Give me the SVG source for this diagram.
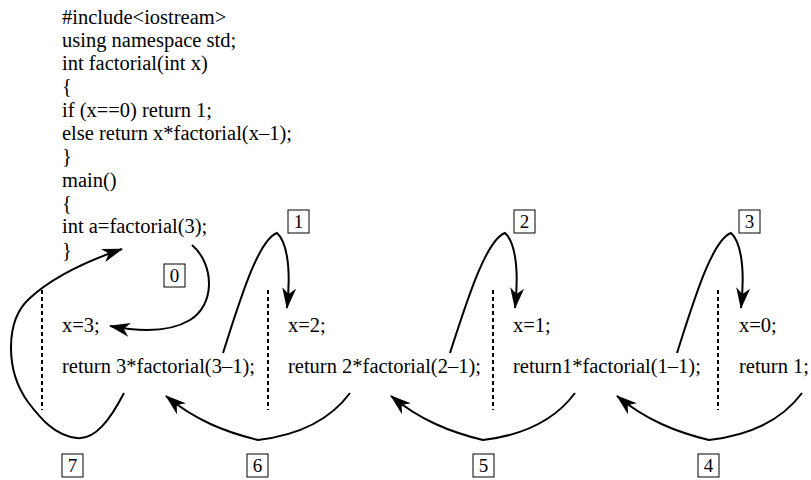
<svg xmlns="http://www.w3.org/2000/svg" width="811" height="480" viewBox="0 0 811 480" font-family="Liberation Serif">
<style>
.t{font-size:20.5px;fill:#000}
.lbl{font-size:19px;text-anchor:middle;fill:#000}
.box{fill:#fff;stroke:#000;stroke-width:1}
.dash{stroke:#000;stroke-width:2;stroke-dasharray:4 3;fill:none}
.arc{fill:none;stroke:#000;stroke-width:2;marker-end:url(#ah)}
</style>
<defs>
<marker id="ah" markerWidth="22" markerHeight="16" refX="20" refY="8" orient="auto" markerUnits="userSpaceOnUse" viewBox="0 0 22 16">
<path d="M21,8 L0,1 L6,8 L0,15 Z" fill="#000"/>
</marker>
</defs>
<rect width="811" height="480" fill="#fff"/>
<g id="code">
<text class="t" x="62" y="23.5">#include&lt;iostream&gt;</text>
<text class="t" x="62" y="46.8">using namespace std;</text>
<text class="t" x="62" y="70.1">int factorial(int x)</text>
<text class="t" x="62" y="93.4">{</text>
<text class="t" x="62" y="116.7">if (x==0) return 1;</text>
<text class="t" x="62" y="140">else return x*factorial(x–1);</text>
<text class="t" x="62" y="163.3">}</text>
<text class="t" x="62" y="186.6">main()</text>
<text class="t" x="62" y="209.9">{</text>
<text class="t" x="62" y="233.2">int a=factorial(3);</text>
<text class="t" x="62" y="256.5">}</text>
</g>
<g id="frame3">
<line class="dash" x1="42" y1="290" x2="42" y2="410"/>
<text class="t" x="62" y="331.5">x=3;</text>
<text class="t" x="62" y="372.5">return 3*factorial(3–1);</text>
</g>
<g id="frame2">
<line class="dash" x1="268" y1="290" x2="268" y2="410"/>
<text class="t" x="288" y="331.5">x=2;</text>
<text class="t" x="288" y="372.5">return 2*factorial(2–1);</text>
</g>
<g id="frame1">
<line class="dash" x1="493" y1="290" x2="493" y2="410"/>
<text class="t" x="513" y="331.5">x=1;</text>
<text class="t" x="513" y="372.5">return1*factorial(1–1);</text>
</g>
<g id="frame0">
<line class="dash" x1="718" y1="290" x2="718" y2="410"/>
<text class="t" x="739" y="331.5">x=0;</text>
<text class="t" x="739" y="372.5">return 1;</text>
</g>
<g id="connectors">
<path class="arc" d="M192,245 C215,265 215,305 190,320 C170,332 140,332 110,326"/>
<path class="arc" d="M223,353 C240,300 258,240 277,233 C285,240 292,262 287,308"/>
<path class="arc" d="M450,353 C467,300 486,240 505,233 C513,240 520,262 515,308"/>
<path class="arc" d="M677,353 C694,300 712,240 731,233 C739,240 746,262 741,308"/>
<path class="arc" d="M802,393 C782,420 752,435 709,440 C676,432 646,420 617,396"/>
<path class="arc" d="M575,393 C555,420 525,435 483,440 C450,432 420,420 391,396"/>
<path class="arc" d="M350,393 C330,420 300,435 258,440 C225,432 195,420 166,396"/>
<path class="arc" d="M124,393 C110,420 95,440 77,438 C55,436 40,418 28,402 C5,370 5,320 30,298 C55,275 90,260 122,249"/>
</g>
<g id="labels">
<g id="label0"><rect class="box" x="164" y="264" width="21" height="23"/><text class="lbl" x="174.5" y="282">0</text></g>
<g id="label1"><rect class="box" x="288" y="210" width="21" height="23"/><text class="lbl" x="298.5" y="228">1</text></g>
<g id="label2"><rect class="box" x="514" y="210" width="21" height="23"/><text class="lbl" x="524.5" y="228">2</text></g>
<g id="label3"><rect class="box" x="739" y="210" width="21" height="23"/><text class="lbl" x="749.5" y="228">3</text></g>
<g id="label7"><rect class="box" x="62" y="454" width="21" height="23"/><text class="lbl" x="72.5" y="472">7</text></g>
<g id="label6"><rect class="box" x="247" y="454" width="21" height="23"/><text class="lbl" x="257.5" y="472">6</text></g>
<g id="label5"><rect class="box" x="473" y="454" width="21" height="23"/><text class="lbl" x="483.5" y="472">5</text></g>
<g id="label4"><rect class="box" x="698" y="454" width="21" height="23"/><text class="lbl" x="708.5" y="472">4</text></g>
</g>
</svg>
